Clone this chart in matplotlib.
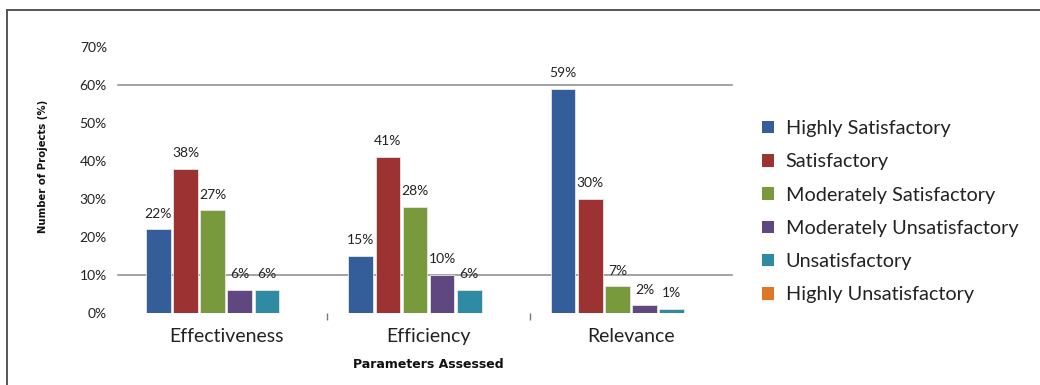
import matplotlib
matplotlib.use("Agg")
import matplotlib.pyplot as plt
from matplotlib.lines import Line2D
from matplotlib.patches import Patch
import numpy as np

# Chart data
parameters = ["Effectiveness", "Efficiency", "Relevance"]
ratings = ["Highly Satisfactory", "Satisfactory", "Moderately Satisfactory",
           "Moderately Unsatisfactory", "Unsatisfactory", "Highly Unsatisfactory"]
highly_satisfactory = [22, 15, 59]
satisfactory = [38, 41, 30]
moderately_satisfactory = [27, 28, 7]
moderately_unsatisfactory = [6, 10, 2]
unsatisfactory = [6, 6, 1]
highly_unsatisfactory = [0, 0, 0]
y_ticks = [0, 10, 20, 30, 40, 50, 60, 70]

series = [highly_satisfactory, satisfactory, moderately_satisfactory,
          moderately_unsatisfactory, unsatisfactory, highly_unsatisfactory]
colors = ["#345e9a", "#9c3332", "#789a3c", "#5f4780", "#2f8aa3", "#e0762a"]

plt.rcParams["font.family"] = ["Lato", "DejaVu Sans"]

fig = plt.figure(figsize=(10.4, 3.85), dpi=100)
ax = fig.add_axes([0.1202, 0.187, 0.5837, 0.691])

x = np.arange(len(parameters))
slot = 0.134
width = 0.122
n = len(series)
for i, (vals, col) in enumerate(zip(series, colors)):
    pos = x + (i - (n - 1) / 2) * slot
    bars = ax.bar(pos, vals, width=width, color=col, edgecolor="#e6e6e6",
                  linewidth=0.6, zorder=3, label=ratings[i])
    if i < 5:
        for b, v in zip(bars, vals):
            ax.annotate(f"{v}%", (b.get_x() + b.get_width() / 2, v),
                        xytext=(0, 7), textcoords="offset points",
                        ha="center", va="bottom", fontsize=10,
                        color="#222222", zorder=4)

ax.set_xlim(-0.5, 2.5)
ax.set_ylim(0, 70)
ax.set_yticks(y_ticks)
ax.set_yticklabels([f"{t}%" for t in y_ticks], fontsize=10, color="#222222")
ax.tick_params(axis="y", length=0, pad=13)

# horizontal reference lines
for yl in (10, 60):
    ax.axhline(yl, xmin=-0.012, xmax=1.0, color="#8a8a8a", linewidth=1.1,
               zorder=1, clip_on=False)

ax.set_xticks([0.5, 1.5], minor=True)
ax.set_xticks(x)
ax.set_xticklabels(parameters, fontsize=14, color="#222222")
ax.tick_params(axis="x", which="major", length=0, pad=11)
ax.tick_params(axis="x", which="minor", length=5, width=1, color="#777777",
               pad=0, direction="out")
for s in ax.spines.values():
    s.set_visible(False)

fig.text(43 / 1040, 1 - 166 / 385, "Number of Projects (%)", rotation=90,
         ha="center", va="center", fontsize=7.3, fontweight="bold",
         family="DejaVu Sans", color="#111111")
fig.text(428 / 1040, 1 - 364 / 385, "Parameters Assessed", ha="center",
         va="center", fontsize=9, fontweight="bold", family="DejaVu Sans",
         color="#111111")

handles = [Patch(facecolor=c, edgecolor="none") for c in colors]
fig.legend(handles, ratings, loc="upper left",
           bbox_to_anchor=(762 / 1040, 1 - 120 / 385), frameon=False,
           fontsize=14.3, handlelength=0.6, handleheight=0.6,
           handletextpad=0.6, labelspacing=0.82, borderaxespad=0,
           borderpad=0, labelcolor="#222222")

# chart frame
fig.add_artist(Line2D([7 / 1040, 1.0], [1 - 10 / 385, 1 - 10 / 385],
                      transform=fig.transFigure, color="#555555", linewidth=1.4))
fig.add_artist(Line2D([7 / 1040, 7 / 1040], [0.0, 1 - 10 / 385],
                      transform=fig.transFigure, color="#555555", linewidth=1.4))

fig.savefig("out.png", dpi=100)
